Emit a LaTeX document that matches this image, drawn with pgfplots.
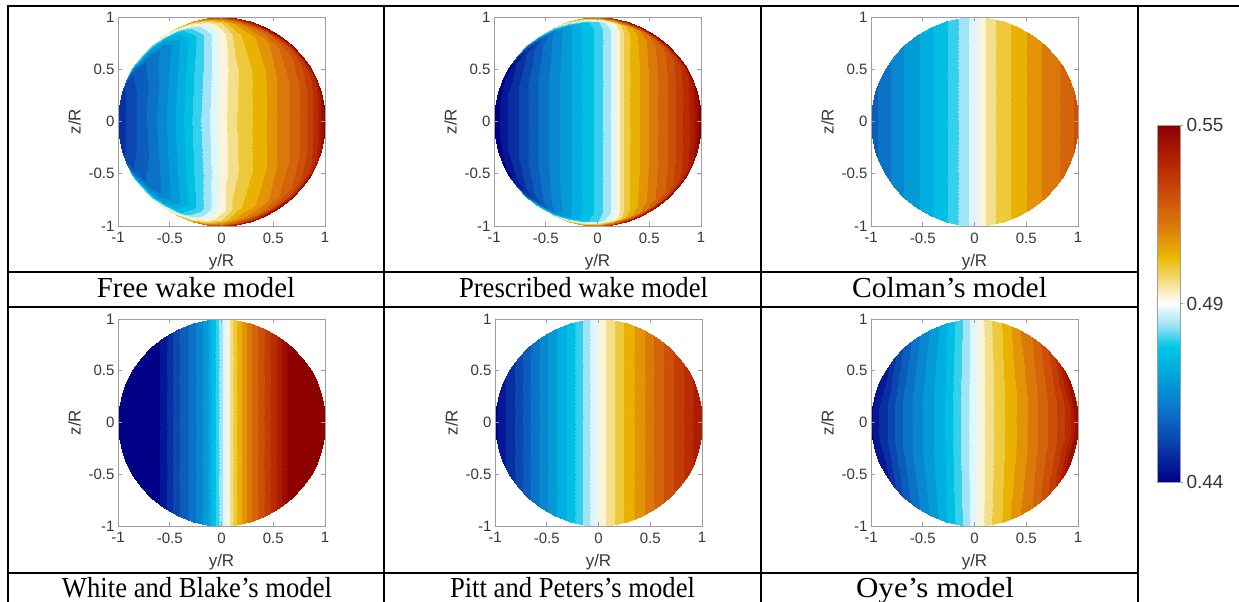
\documentclass[border=0pt]{standalone}
\usepackage{graphicx}
\usepackage{pgfplots}
\pgfplotsset{compat=1.18}
\usepackage{fontspec}
\setmainfont{Liberation Serif}
\newfontfamily\arial{Liberation Sans}
\definecolor{axgray}{gray}{0.62}
\definecolor{txtgray}{gray}{0.22}
\pgfplotsset{
  colormap={diverge}{rgb255(0cm)=(0,0,135); rgb255(10cm)=(10,60,170); rgb255(20cm)=(10,115,200); rgb255(30cm)=(0,165,220); rgb255(38cm)=(0,200,232); rgb255(44cm)=(160,228,245); rgb255(50cm)=(255,255,255); rgb255(57cm)=(242,218,120); rgb255(63cm)=(235,185,0); rgb255(71cm)=(220,125,10); rgb255(80cm)=(205,80,10); rgb255(90cm)=(180,35,0); rgb255(100cm)=(140,0,0)},
  panel/.style={
    scale only axis, width=207pt, height=#1,
    xmin=-1, xmax=1, ymin=-1, ymax=1,
    axis on top,
    axis line style={draw=axgray, line width=0.7pt},
    every tick/.style={draw=axgray, line width=0.7pt},
    tick align=inside, major tick length=4pt,
    xtick={-1,-0.5,0,0.5,1}, ytick={-1,-0.5,0,0.5,1},
    xticklabels={-1,-0.5,0,0.5,1}, yticklabels={-1,-0.5,0,0.5,1},
    tick label style={font=\arial\fontsize{15}{15}\selectfont, text=txtgray},
    xticklabel style={yshift=-3pt},
    xlabel={y/R}, ylabel={z/R},
    label style={font=\arial\fontsize{17}{17}\selectfont, text=txtgray},
    xlabel style={at={(axis description cs:0.5,-0.175)}, anchor=center},
    ylabel style={at={(axis description cs:-0.21,0.5)}, anchor=center},
    point meta min=0.44, point meta max=0.55,
  },
  disk/.style={contour filled={number=26}, mesh/cols=23, mesh/rows=#1, point meta=\thisrow{v}},
  table/disktab/.style={row sep=\\, x=a, y expr={(\thisrow{s})*sqrt(1-(\thisrow{a})*(\thisrow{a}))}},
}
\begin{document}
\begin{tikzpicture}
\clip (0,0) rectangle (1239pt,602pt);
\fill[white] (0,0) rectangle (1239pt,602pt);

% ---------- Free wake model ----------
\begin{axis}[panel=209pt, at={(118pt,376pt)}, anchor=south west]
\addplot[disk=11] table[disktab] {
a s v\\
-1 -1 0.4488\\ -0.99 -1 0.4499\\ -0.96 -1 0.4532\\ -0.92 -1 0.462\\ -0.86 -1 0.4818\\ -0.78 -1 0.4928\\ -0.68 -1 0.4972\\ -0.56 -1 0.5005\\ -0.42 -1 0.5082\\ -0.28 -1 0.517\\ -0.14 -1 0.528\\ 0 -1 0.5368\\ 0.14 -1 0.5434\\ 0.28 -1 0.5467\\ 0.42 -1 0.5489\\ 0.56 -1 0.55\\ 0.68 -1 0.55\\ 0.78 -1 0.55\\ 0.86 -1 0.55\\ 0.92 -1 0.55\\ 0.96 -1 0.55\\ 0.99 -1 0.55\\ 1 -1 0.5489\\
-1 -0.98 0.4488\\ -0.99 -0.98 0.4499\\ -0.96 -0.98 0.4521\\ -0.92 -0.98 0.4565\\ -0.86 -0.98 0.473\\ -0.78 -0.98 0.484\\ -0.68 -0.98 0.4884\\ -0.56 -0.98 0.4895\\ -0.42 -0.98 0.495\\ -0.28 -0.98 0.5016\\ -0.14 -0.98 0.5082\\ 0 -0.98 0.517\\ 0.14 -0.98 0.5258\\ 0.28 -0.98 0.5324\\ 0.42 -0.98 0.5368\\ 0.56 -0.98 0.539\\ 0.68 -0.98 0.5412\\ 0.78 -0.98 0.5423\\ 0.86 -0.98 0.5434\\ 0.92 -0.98 0.5445\\ 0.96 -0.98 0.5456\\ 0.99 -0.98 0.5478\\ 1 -0.98 0.5489\\
-1 -0.94 0.4488\\ -0.99 -0.94 0.4497\\ -0.96 -0.94 0.4516\\ -0.92 -0.94 0.4543\\ -0.86 -0.94 0.462\\ -0.78 -0.94 0.4697\\ -0.68 -0.94 0.473\\ -0.56 -0.94 0.4741\\ -0.42 -0.94 0.4796\\ -0.28 -0.94 0.4884\\ -0.14 -0.94 0.495\\ 0 -0.94 0.5038\\ 0.14 -0.94 0.5126\\ 0.28 -0.94 0.5181\\ 0.42 -0.94 0.5225\\ 0.56 -0.94 0.5269\\ 0.68 -0.94 0.5302\\ 0.78 -0.94 0.5335\\ 0.86 -0.94 0.5368\\ 0.92 -0.94 0.5401\\ 0.96 -0.94 0.5434\\ 0.99 -0.94 0.5467\\ 1 -0.94 0.5489\\
-1 -0.85 0.4488\\ -0.99 -0.85 0.4494\\ -0.96 -0.85 0.451\\ -0.92 -0.85 0.4532\\ -0.86 -0.85 0.4565\\ -0.78 -0.85 0.4598\\ -0.68 -0.85 0.4631\\ -0.56 -0.85 0.4664\\ -0.42 -0.85 0.473\\ -0.28 -0.85 0.4807\\ -0.14 -0.85 0.4884\\ 0 -0.85 0.4972\\ 0.14 -0.85 0.506\\ 0.28 -0.85 0.5104\\ 0.42 -0.85 0.5148\\ 0.56 -0.85 0.5203\\ 0.68 -0.85 0.5247\\ 0.78 -0.85 0.5291\\ 0.86 -0.85 0.5335\\ 0.92 -0.85 0.5379\\ 0.96 -0.85 0.5423\\ 0.99 -0.85 0.5467\\ 1 -0.85 0.5489\\
-1 -0.5 0.4488\\ -0.99 -0.5 0.4494\\ -0.96 -0.5 0.451\\ -0.92 -0.5 0.4532\\ -0.86 -0.5 0.4554\\ -0.78 -0.5 0.4587\\ -0.68 -0.5 0.462\\ -0.56 -0.5 0.4675\\ -0.42 -0.5 0.4741\\ -0.28 -0.5 0.4818\\ -0.14 -0.5 0.4884\\ 0 -0.5 0.4967\\ 0.14 -0.5 0.5027\\ 0.28 -0.5 0.5071\\ 0.42 -0.5 0.5115\\ 0.56 -0.5 0.517\\ 0.68 -0.5 0.5214\\ 0.78 -0.5 0.5258\\ 0.86 -0.5 0.5313\\ 0.92 -0.5 0.5368\\ 0.96 -0.5 0.5423\\ 0.99 -0.5 0.5467\\ 1 -0.5 0.5489\\
-1 0 0.4488\\ -0.99 0 0.4494\\ -0.96 0 0.451\\ -0.92 0 0.4532\\ -0.86 0 0.4554\\ -0.78 0 0.4587\\ -0.68 0 0.4631\\ -0.56 0 0.4686\\ -0.42 0 0.4752\\ -0.28 0 0.4829\\ -0.14 0 0.4895\\ 0 0 0.4972\\ 0.14 0 0.5033\\ 0.28 0 0.5071\\ 0.42 0 0.5115\\ 0.56 0 0.517\\ 0.68 0 0.5214\\ 0.78 0 0.5258\\ 0.86 0 0.5313\\ 0.92 0 0.5368\\ 0.96 0 0.5423\\ 0.99 0 0.5467\\ 1 0 0.5489\\
-1 0.5 0.4488\\ -0.99 0.5 0.4494\\ -0.96 0.5 0.451\\ -0.92 0.5 0.4532\\ -0.86 0.5 0.4554\\ -0.78 0.5 0.4587\\ -0.68 0.5 0.462\\ -0.56 0.5 0.4675\\ -0.42 0.5 0.4741\\ -0.28 0.5 0.4818\\ -0.14 0.5 0.4884\\ 0 0.5 0.4967\\ 0.14 0.5 0.5027\\ 0.28 0.5 0.5071\\ 0.42 0.5 0.5115\\ 0.56 0.5 0.517\\ 0.68 0.5 0.5214\\ 0.78 0.5 0.5258\\ 0.86 0.5 0.5313\\ 0.92 0.5 0.5368\\ 0.96 0.5 0.5423\\ 0.99 0.5 0.5467\\ 1 0.5 0.5489\\
-1 0.85 0.4488\\ -0.99 0.85 0.4494\\ -0.96 0.85 0.451\\ -0.92 0.85 0.4532\\ -0.86 0.85 0.4565\\ -0.78 0.85 0.4598\\ -0.68 0.85 0.4631\\ -0.56 0.85 0.4664\\ -0.42 0.85 0.473\\ -0.28 0.85 0.4807\\ -0.14 0.85 0.4884\\ 0 0.85 0.4972\\ 0.14 0.85 0.506\\ 0.28 0.85 0.5104\\ 0.42 0.85 0.5148\\ 0.56 0.85 0.5203\\ 0.68 0.85 0.5247\\ 0.78 0.85 0.5291\\ 0.86 0.85 0.5335\\ 0.92 0.85 0.5379\\ 0.96 0.85 0.5423\\ 0.99 0.85 0.5467\\ 1 0.85 0.5489\\
-1 0.94 0.4488\\ -0.99 0.94 0.4497\\ -0.96 0.94 0.4516\\ -0.92 0.94 0.4543\\ -0.86 0.94 0.462\\ -0.78 0.94 0.4697\\ -0.68 0.94 0.473\\ -0.56 0.94 0.4741\\ -0.42 0.94 0.4796\\ -0.28 0.94 0.4884\\ -0.14 0.94 0.495\\ 0 0.94 0.5038\\ 0.14 0.94 0.5126\\ 0.28 0.94 0.5181\\ 0.42 0.94 0.5225\\ 0.56 0.94 0.5269\\ 0.68 0.94 0.5302\\ 0.78 0.94 0.5335\\ 0.86 0.94 0.5368\\ 0.92 0.94 0.5401\\ 0.96 0.94 0.5434\\ 0.99 0.94 0.5467\\ 1 0.94 0.5489\\
-1 0.98 0.4488\\ -0.99 0.98 0.4499\\ -0.96 0.98 0.4521\\ -0.92 0.98 0.4565\\ -0.86 0.98 0.473\\ -0.78 0.98 0.484\\ -0.68 0.98 0.4884\\ -0.56 0.98 0.4895\\ -0.42 0.98 0.495\\ -0.28 0.98 0.5016\\ -0.14 0.98 0.5082\\ 0 0.98 0.517\\ 0.14 0.98 0.5258\\ 0.28 0.98 0.5324\\ 0.42 0.98 0.5368\\ 0.56 0.98 0.539\\ 0.68 0.98 0.5412\\ 0.78 0.98 0.5423\\ 0.86 0.98 0.5434\\ 0.92 0.98 0.5445\\ 0.96 0.98 0.5456\\ 0.99 0.98 0.5478\\ 1 0.98 0.5489\\
-1 1 0.4488\\ -0.99 1 0.4499\\ -0.96 1 0.4532\\ -0.92 1 0.462\\ -0.86 1 0.4818\\ -0.78 1 0.4928\\ -0.68 1 0.4972\\ -0.56 1 0.5005\\ -0.42 1 0.5082\\ -0.28 1 0.517\\ -0.14 1 0.528\\ 0 1 0.5368\\ 0.14 1 0.5434\\ 0.28 1 0.5467\\ 0.42 1 0.5489\\ 0.56 1 0.55\\ 0.68 1 0.55\\ 0.78 1 0.55\\ 0.86 1 0.55\\ 0.92 1 0.55\\ 0.96 1 0.55\\ 0.99 1 0.55\\ 1 1 0.5489\\
};
\end{axis}

% ---------- Prescribed wake model ----------
\begin{axis}[panel=209pt, at={(494pt,376pt)}, anchor=south west]
\addplot[disk=11] table[disktab] {
a s v\\
-1 -1 0.44\\ -0.99 -1 0.44\\ -0.96 -1 0.44\\ -0.92 -1 0.44\\ -0.86 -1 0.4455\\ -0.78 -1 0.462\\ -0.68 -1 0.484\\ -0.56 -1 0.495\\ -0.42 -1 0.5038\\ -0.28 -1 0.5115\\ -0.14 -1 0.5192\\ 0 -1 0.528\\ 0.14 -1 0.539\\ 0.28 -1 0.5456\\ 0.42 -1 0.55\\ 0.56 -1 0.55\\ 0.68 -1 0.55\\ 0.78 -1 0.55\\ 0.86 -1 0.55\\ 0.92 -1 0.55\\ 0.96 -1 0.55\\ 0.99 -1 0.55\\ 1 -1 0.55\\
-1 -0.985 0.44\\ -0.99 -0.985 0.44\\ -0.96 -0.985 0.44\\ -0.92 -0.985 0.44\\ -0.86 -0.985 0.4422\\ -0.78 -0.985 0.4488\\ -0.68 -0.985 0.462\\ -0.56 -0.985 0.4785\\ -0.42 -0.985 0.4862\\ -0.28 -0.985 0.4906\\ -0.14 -0.985 0.495\\ 0 -0.985 0.5038\\ 0.14 -0.985 0.517\\ 0.28 -0.985 0.528\\ 0.42 -0.985 0.5368\\ 0.56 -0.985 0.5412\\ 0.68 -0.985 0.5434\\ 0.78 -0.985 0.5445\\ 0.86 -0.985 0.5456\\ 0.92 -0.985 0.5467\\ 0.96 -0.985 0.5478\\ 0.99 -0.985 0.5489\\ 1 -0.985 0.55\\
-1 -0.95 0.44\\ -0.99 -0.95 0.44\\ -0.96 -0.95 0.4411\\ -0.92 -0.95 0.4422\\ -0.86 -0.95 0.4433\\ -0.78 -0.95 0.4455\\ -0.68 -0.95 0.4499\\ -0.56 -0.95 0.4565\\ -0.42 -0.95 0.4653\\ -0.28 -0.95 0.473\\ -0.14 -0.95 0.4796\\ 0 -0.95 0.4862\\ 0.14 -0.95 0.495\\ 0.28 -0.95 0.5082\\ 0.42 -0.95 0.517\\ 0.56 -0.95 0.5247\\ 0.68 -0.95 0.5302\\ 0.78 -0.95 0.5346\\ 0.86 -0.95 0.539\\ 0.92 -0.95 0.5423\\ 0.96 -0.95 0.5456\\ 0.99 -0.95 0.5478\\ 1 -0.95 0.55\\
-1 -0.88 0.44\\ -0.99 -0.88 0.4406\\ -0.96 -0.88 0.4422\\ -0.92 -0.88 0.4433\\ -0.86 -0.88 0.4455\\ -0.78 -0.88 0.4488\\ -0.68 -0.88 0.4532\\ -0.56 -0.88 0.4598\\ -0.42 -0.88 0.4664\\ -0.28 -0.88 0.473\\ -0.14 -0.88 0.4785\\ 0 -0.88 0.484\\ 0.14 -0.88 0.4917\\ 0.28 -0.88 0.506\\ 0.42 -0.88 0.5137\\ 0.56 -0.88 0.5203\\ 0.68 -0.88 0.5258\\ 0.78 -0.88 0.5313\\ 0.86 -0.88 0.5368\\ 0.92 -0.88 0.5412\\ 0.96 -0.88 0.5456\\ 0.99 -0.88 0.5478\\ 1 -0.88 0.55\\
-1 -0.5 0.44\\ -0.99 -0.5 0.4411\\ -0.96 -0.5 0.4433\\ -0.92 -0.5 0.4455\\ -0.86 -0.5 0.4488\\ -0.78 -0.5 0.4521\\ -0.68 -0.5 0.4565\\ -0.56 -0.5 0.462\\ -0.42 -0.5 0.4675\\ -0.28 -0.5 0.473\\ -0.14 -0.5 0.4785\\ 0 -0.5 0.484\\ 0.14 -0.5 0.4917\\ 0.28 -0.5 0.506\\ 0.42 -0.5 0.5126\\ 0.56 -0.5 0.5192\\ 0.68 -0.5 0.5247\\ 0.78 -0.5 0.5302\\ 0.86 -0.5 0.5357\\ 0.92 -0.5 0.5401\\ 0.96 -0.5 0.5445\\ 0.99 -0.5 0.5478\\ 1 -0.5 0.55\\
-1 0 0.44\\ -0.99 0 0.4411\\ -0.96 0 0.4433\\ -0.92 0 0.4455\\ -0.86 0 0.4488\\ -0.78 0 0.4521\\ -0.68 0 0.4565\\ -0.56 0 0.462\\ -0.42 0 0.4675\\ -0.28 0 0.473\\ -0.14 0 0.4785\\ 0 0 0.484\\ 0.14 0 0.4917\\ 0.28 0 0.506\\ 0.42 0 0.5126\\ 0.56 0 0.5192\\ 0.68 0 0.5247\\ 0.78 0 0.5302\\ 0.86 0 0.5357\\ 0.92 0 0.5401\\ 0.96 0 0.5445\\ 0.99 0 0.5478\\ 1 0 0.55\\
-1 0.5 0.44\\ -0.99 0.5 0.4411\\ -0.96 0.5 0.4433\\ -0.92 0.5 0.4455\\ -0.86 0.5 0.4488\\ -0.78 0.5 0.4521\\ -0.68 0.5 0.4565\\ -0.56 0.5 0.462\\ -0.42 0.5 0.4675\\ -0.28 0.5 0.473\\ -0.14 0.5 0.4785\\ 0 0.5 0.484\\ 0.14 0.5 0.4917\\ 0.28 0.5 0.506\\ 0.42 0.5 0.5126\\ 0.56 0.5 0.5192\\ 0.68 0.5 0.5247\\ 0.78 0.5 0.5302\\ 0.86 0.5 0.5357\\ 0.92 0.5 0.5401\\ 0.96 0.5 0.5445\\ 0.99 0.5 0.5478\\ 1 0.5 0.55\\
-1 0.88 0.44\\ -0.99 0.88 0.4406\\ -0.96 0.88 0.4422\\ -0.92 0.88 0.4433\\ -0.86 0.88 0.4455\\ -0.78 0.88 0.4488\\ -0.68 0.88 0.4532\\ -0.56 0.88 0.4598\\ -0.42 0.88 0.4664\\ -0.28 0.88 0.473\\ -0.14 0.88 0.4785\\ 0 0.88 0.484\\ 0.14 0.88 0.4917\\ 0.28 0.88 0.506\\ 0.42 0.88 0.5137\\ 0.56 0.88 0.5203\\ 0.68 0.88 0.5258\\ 0.78 0.88 0.5313\\ 0.86 0.88 0.5368\\ 0.92 0.88 0.5412\\ 0.96 0.88 0.5456\\ 0.99 0.88 0.5478\\ 1 0.88 0.55\\
-1 0.95 0.44\\ -0.99 0.95 0.44\\ -0.96 0.95 0.4411\\ -0.92 0.95 0.4422\\ -0.86 0.95 0.4433\\ -0.78 0.95 0.4455\\ -0.68 0.95 0.4499\\ -0.56 0.95 0.4565\\ -0.42 0.95 0.4653\\ -0.28 0.95 0.473\\ -0.14 0.95 0.4796\\ 0 0.95 0.4862\\ 0.14 0.95 0.495\\ 0.28 0.95 0.5082\\ 0.42 0.95 0.517\\ 0.56 0.95 0.5247\\ 0.68 0.95 0.5302\\ 0.78 0.95 0.5346\\ 0.86 0.95 0.539\\ 0.92 0.95 0.5423\\ 0.96 0.95 0.5456\\ 0.99 0.95 0.5478\\ 1 0.95 0.55\\
-1 0.985 0.44\\ -0.99 0.985 0.44\\ -0.96 0.985 0.44\\ -0.92 0.985 0.44\\ -0.86 0.985 0.4422\\ -0.78 0.985 0.4488\\ -0.68 0.985 0.462\\ -0.56 0.985 0.4785\\ -0.42 0.985 0.4862\\ -0.28 0.985 0.4906\\ -0.14 0.985 0.495\\ 0 0.985 0.5038\\ 0.14 0.985 0.517\\ 0.28 0.985 0.528\\ 0.42 0.985 0.5368\\ 0.56 0.985 0.5412\\ 0.68 0.985 0.5434\\ 0.78 0.985 0.5445\\ 0.86 0.985 0.5456\\ 0.92 0.985 0.5467\\ 0.96 0.985 0.5478\\ 0.99 0.985 0.5489\\ 1 0.985 0.55\\
-1 1 0.44\\ -0.99 1 0.44\\ -0.96 1 0.44\\ -0.92 1 0.44\\ -0.86 1 0.4455\\ -0.78 1 0.462\\ -0.68 1 0.484\\ -0.56 1 0.495\\ -0.42 1 0.5038\\ -0.28 1 0.5115\\ -0.14 1 0.5192\\ 0 1 0.528\\ 0.14 1 0.539\\ 0.28 1 0.5456\\ 0.42 1 0.55\\ 0.56 1 0.55\\ 0.68 1 0.55\\ 0.78 1 0.55\\ 0.86 1 0.55\\ 0.92 1 0.55\\ 0.96 1 0.55\\ 0.99 1 0.55\\ 1 1 0.55\\
};
\end{axis}

% ---------- Colman's model ----------
\begin{axis}[panel=209pt, at={(871pt,376pt)}, anchor=south west]
\addplot[disk=5] table[disktab] {
a s v\\
-1 -1 0.4587\\ -0.99 -1 0.4593\\ -0.96 -1 0.4598\\ -0.92 -1 0.462\\ -0.86 -1 0.4642\\ -0.78 -1 0.4664\\ -0.68 -1 0.4697\\ -0.56 -1 0.473\\ -0.42 -1 0.4774\\ -0.28 -1 0.4818\\ -0.14 -1 0.4873\\ 0 -1 0.4934\\ 0.14 -1 0.5011\\ 0.28 -1 0.506\\ 0.42 -1 0.5093\\ 0.56 -1 0.5137\\ 0.68 -1 0.517\\ 0.78 -1 0.5192\\ 0.86 -1 0.5214\\ 0.92 -1 0.5236\\ 0.96 -1 0.5247\\ 0.99 -1 0.5258\\ 1 -1 0.5264\\
-1 -0.5 0.4587\\ -0.99 -0.5 0.4593\\ -0.96 -0.5 0.4598\\ -0.92 -0.5 0.462\\ -0.86 -0.5 0.4642\\ -0.78 -0.5 0.4664\\ -0.68 -0.5 0.4697\\ -0.56 -0.5 0.473\\ -0.42 -0.5 0.4774\\ -0.28 -0.5 0.4818\\ -0.14 -0.5 0.4873\\ 0 -0.5 0.4934\\ 0.14 -0.5 0.5011\\ 0.28 -0.5 0.506\\ 0.42 -0.5 0.5093\\ 0.56 -0.5 0.5137\\ 0.68 -0.5 0.517\\ 0.78 -0.5 0.5192\\ 0.86 -0.5 0.5214\\ 0.92 -0.5 0.5236\\ 0.96 -0.5 0.5247\\ 0.99 -0.5 0.5258\\ 1 -0.5 0.5264\\
-1 0 0.4587\\ -0.99 0 0.4593\\ -0.96 0 0.4598\\ -0.92 0 0.462\\ -0.86 0 0.4642\\ -0.78 0 0.4664\\ -0.68 0 0.4697\\ -0.56 0 0.473\\ -0.42 0 0.4774\\ -0.28 0 0.4818\\ -0.14 0 0.4873\\ 0 0 0.4934\\ 0.14 0 0.5011\\ 0.28 0 0.506\\ 0.42 0 0.5093\\ 0.56 0 0.5137\\ 0.68 0 0.517\\ 0.78 0 0.5192\\ 0.86 0 0.5214\\ 0.92 0 0.5236\\ 0.96 0 0.5247\\ 0.99 0 0.5258\\ 1 0 0.5264\\
-1 0.5 0.4587\\ -0.99 0.5 0.4593\\ -0.96 0.5 0.4598\\ -0.92 0.5 0.462\\ -0.86 0.5 0.4642\\ -0.78 0.5 0.4664\\ -0.68 0.5 0.4697\\ -0.56 0.5 0.473\\ -0.42 0.5 0.4774\\ -0.28 0.5 0.4818\\ -0.14 0.5 0.4873\\ 0 0.5 0.4934\\ 0.14 0.5 0.5011\\ 0.28 0.5 0.506\\ 0.42 0.5 0.5093\\ 0.56 0.5 0.5137\\ 0.68 0.5 0.517\\ 0.78 0.5 0.5192\\ 0.86 0.5 0.5214\\ 0.92 0.5 0.5236\\ 0.96 0.5 0.5247\\ 0.99 0.5 0.5258\\ 1 0.5 0.5264\\
-1 1 0.4587\\ -0.99 1 0.4593\\ -0.96 1 0.4598\\ -0.92 1 0.462\\ -0.86 1 0.4642\\ -0.78 1 0.4664\\ -0.68 1 0.4697\\ -0.56 1 0.473\\ -0.42 1 0.4774\\ -0.28 1 0.4818\\ -0.14 1 0.4873\\ 0 1 0.4934\\ 0.14 1 0.5011\\ 0.28 1 0.506\\ 0.42 1 0.5093\\ 0.56 1 0.5137\\ 0.68 1 0.517\\ 0.78 1 0.5192\\ 0.86 1 0.5214\\ 0.92 1 0.5236\\ 0.96 1 0.5247\\ 0.99 1 0.5258\\ 1 1 0.5264\\
};
\end{axis}

% ---------- White and Blake's model ----------
\begin{axis}[panel=207pt, at={(118pt,76pt)}, anchor=south west]
\addplot[disk=5] table[disktab] {
a s v\\
-1 -1 0.4378\\ -0.99 -1 0.4378\\ -0.96 -1 0.4378\\ -0.92 -1 0.4378\\ -0.86 -1 0.4378\\ -0.78 -1 0.4378\\ -0.68 -1 0.4378\\ -0.56 -1 0.4465\\ -0.42 -1 0.4564\\ -0.28 -1 0.4635\\ -0.14 -1 0.4726\\ 0 -1 0.4902\\ 0.14 -1 0.5073\\ 0.28 -1 0.5193\\ 0.42 -1 0.5295\\ 0.56 -1 0.5392\\ 0.68 -1 0.5522\\ 0.78 -1 0.5522\\ 0.86 -1 0.5522\\ 0.92 -1 0.5522\\ 0.96 -1 0.5522\\ 0.99 -1 0.5522\\ 1 -1 0.5522\\
-1 -0.5 0.4378\\ -0.99 -0.5 0.4378\\ -0.96 -0.5 0.4378\\ -0.92 -0.5 0.4378\\ -0.86 -0.5 0.4378\\ -0.78 -0.5 0.4378\\ -0.68 -0.5 0.4378\\ -0.56 -0.5 0.4465\\ -0.42 -0.5 0.4564\\ -0.28 -0.5 0.4635\\ -0.14 -0.5 0.4726\\ 0 -0.5 0.4902\\ 0.14 -0.5 0.5073\\ 0.28 -0.5 0.5193\\ 0.42 -0.5 0.5295\\ 0.56 -0.5 0.5392\\ 0.68 -0.5 0.5522\\ 0.78 -0.5 0.5522\\ 0.86 -0.5 0.5522\\ 0.92 -0.5 0.5522\\ 0.96 -0.5 0.5522\\ 0.99 -0.5 0.5522\\ 1 -0.5 0.5522\\
-1 0 0.4378\\ -0.99 0 0.4378\\ -0.96 0 0.4378\\ -0.92 0 0.4378\\ -0.86 0 0.4378\\ -0.78 0 0.4378\\ -0.68 0 0.4378\\ -0.56 0 0.4465\\ -0.42 0 0.4564\\ -0.28 0 0.4635\\ -0.14 0 0.4726\\ 0 0 0.4902\\ 0.14 0 0.5073\\ 0.28 0 0.5193\\ 0.42 0 0.5295\\ 0.56 0 0.5392\\ 0.68 0 0.5522\\ 0.78 0 0.5522\\ 0.86 0 0.5522\\ 0.92 0 0.5522\\ 0.96 0 0.5522\\ 0.99 0 0.5522\\ 1 0 0.5522\\
-1 0.5 0.4378\\ -0.99 0.5 0.4378\\ -0.96 0.5 0.4378\\ -0.92 0.5 0.4378\\ -0.86 0.5 0.4378\\ -0.78 0.5 0.4378\\ -0.68 0.5 0.4378\\ -0.56 0.5 0.4465\\ -0.42 0.5 0.4564\\ -0.28 0.5 0.4635\\ -0.14 0.5 0.4726\\ 0 0.5 0.4902\\ 0.14 0.5 0.5073\\ 0.28 0.5 0.5193\\ 0.42 0.5 0.5295\\ 0.56 0.5 0.5392\\ 0.68 0.5 0.5522\\ 0.78 0.5 0.5522\\ 0.86 0.5 0.5522\\ 0.92 0.5 0.5522\\ 0.96 0.5 0.5522\\ 0.99 0.5 0.5522\\ 1 0.5 0.5522\\
-1 1 0.4378\\ -0.99 1 0.4378\\ -0.96 1 0.4378\\ -0.92 1 0.4378\\ -0.86 1 0.4378\\ -0.78 1 0.4378\\ -0.68 1 0.4378\\ -0.56 1 0.4465\\ -0.42 1 0.4564\\ -0.28 1 0.4635\\ -0.14 1 0.4726\\ 0 1 0.4902\\ 0.14 1 0.5073\\ 0.28 1 0.5193\\ 0.42 1 0.5295\\ 0.56 1 0.5392\\ 0.68 1 0.5522\\ 0.78 1 0.5522\\ 0.86 1 0.5522\\ 0.92 1 0.5522\\ 0.96 1 0.5522\\ 0.99 1 0.5522\\ 1 1 0.5522\\
};
\end{axis}

% ---------- Pitt and Peters's model ----------
\begin{axis}[panel=207pt, at={(495pt,76pt)}, anchor=south west]
\addplot[disk=5] table[disktab] {
a s v\\
-1 -1 0.4422\\ -0.99 -1 0.4433\\ -0.96 -1 0.4455\\ -0.92 -1 0.4477\\ -0.86 -1 0.4499\\ -0.78 -1 0.4543\\ -0.68 -1 0.4598\\ -0.56 -1 0.4664\\ -0.42 -1 0.473\\ -0.28 -1 0.4796\\ -0.14 -1 0.4873\\ 0 -1 0.4961\\ 0.14 -1 0.5027\\ 0.28 -1 0.5093\\ 0.42 -1 0.5148\\ 0.56 -1 0.5214\\ 0.68 -1 0.5269\\ 0.78 -1 0.5313\\ 0.86 -1 0.5346\\ 0.92 -1 0.5379\\ 0.96 -1 0.5401\\ 0.99 -1 0.5412\\ 1 -1 0.5423\\
-1 -0.5 0.4422\\ -0.99 -0.5 0.4433\\ -0.96 -0.5 0.4455\\ -0.92 -0.5 0.4477\\ -0.86 -0.5 0.4499\\ -0.78 -0.5 0.4543\\ -0.68 -0.5 0.4598\\ -0.56 -0.5 0.4664\\ -0.42 -0.5 0.473\\ -0.28 -0.5 0.4796\\ -0.14 -0.5 0.4873\\ 0 -0.5 0.4961\\ 0.14 -0.5 0.5027\\ 0.28 -0.5 0.5093\\ 0.42 -0.5 0.5148\\ 0.56 -0.5 0.5214\\ 0.68 -0.5 0.5269\\ 0.78 -0.5 0.5313\\ 0.86 -0.5 0.5346\\ 0.92 -0.5 0.5379\\ 0.96 -0.5 0.5401\\ 0.99 -0.5 0.5412\\ 1 -0.5 0.5423\\
-1 0 0.4422\\ -0.99 0 0.4433\\ -0.96 0 0.4455\\ -0.92 0 0.4477\\ -0.86 0 0.4499\\ -0.78 0 0.4543\\ -0.68 0 0.4598\\ -0.56 0 0.4664\\ -0.42 0 0.473\\ -0.28 0 0.4796\\ -0.14 0 0.4873\\ 0 0 0.4961\\ 0.14 0 0.5027\\ 0.28 0 0.5093\\ 0.42 0 0.5148\\ 0.56 0 0.5214\\ 0.68 0 0.5269\\ 0.78 0 0.5313\\ 0.86 0 0.5346\\ 0.92 0 0.5379\\ 0.96 0 0.5401\\ 0.99 0 0.5412\\ 1 0 0.5423\\
-1 0.5 0.4422\\ -0.99 0.5 0.4433\\ -0.96 0.5 0.4455\\ -0.92 0.5 0.4477\\ -0.86 0.5 0.4499\\ -0.78 0.5 0.4543\\ -0.68 0.5 0.4598\\ -0.56 0.5 0.4664\\ -0.42 0.5 0.473\\ -0.28 0.5 0.4796\\ -0.14 0.5 0.4873\\ 0 0.5 0.4961\\ 0.14 0.5 0.5027\\ 0.28 0.5 0.5093\\ 0.42 0.5 0.5148\\ 0.56 0.5 0.5214\\ 0.68 0.5 0.5269\\ 0.78 0.5 0.5313\\ 0.86 0.5 0.5346\\ 0.92 0.5 0.5379\\ 0.96 0.5 0.5401\\ 0.99 0.5 0.5412\\ 1 0.5 0.5423\\
-1 1 0.4422\\ -0.99 1 0.4433\\ -0.96 1 0.4455\\ -0.92 1 0.4477\\ -0.86 1 0.4499\\ -0.78 1 0.4543\\ -0.68 1 0.4598\\ -0.56 1 0.4664\\ -0.42 1 0.473\\ -0.28 1 0.4796\\ -0.14 1 0.4873\\ 0 1 0.4961\\ 0.14 1 0.5027\\ 0.28 1 0.5093\\ 0.42 1 0.5148\\ 0.56 1 0.5214\\ 0.68 1 0.5269\\ 0.78 1 0.5313\\ 0.86 1 0.5346\\ 0.92 1 0.5379\\ 0.96 1 0.5401\\ 0.99 1 0.5412\\ 1 1 0.5423\\
};
\end{axis}

% ---------- Oye's model ----------
\begin{axis}[panel=207pt, at={(871pt,76pt)}, anchor=south west]
\addplot[disk=7] table[disktab] {
a s v\\
-1 -1 0.4433\\ -0.99 -1 0.4433\\ -0.96 -1 0.4444\\ -0.92 -1 0.4455\\ -0.86 -1 0.4466\\ -0.78 -1 0.4516\\ -0.68 -1 0.4576\\ -0.56 -1 0.4642\\ -0.42 -1 0.4703\\ -0.28 -1 0.4774\\ -0.14 -1 0.4851\\ 0 -1 0.4939\\ 0.14 -1 0.5024\\ 0.28 -1 0.5082\\ 0.42 -1 0.5154\\ 0.56 -1 0.5203\\ 0.68 -1 0.5269\\ 0.78 -1 0.533\\ 0.86 -1 0.5412\\ 0.92 -1 0.5456\\ 0.96 -1 0.5456\\ 0.99 -1 0.5456\\ 1 -1 0.5456\\
-1 -0.65 0.4433\\ -0.99 -0.65 0.4439\\ -0.96 -0.65 0.4455\\ -0.92 -0.65 0.4472\\ -0.86 -0.65 0.4494\\ -0.78 -0.65 0.4543\\ -0.68 -0.65 0.4598\\ -0.56 -0.65 0.4659\\ -0.42 -0.65 0.4719\\ -0.28 -0.65 0.478\\ -0.14 -0.65 0.4857\\ 0 -0.65 0.4939\\ 0.14 -0.65 0.5019\\ 0.28 -0.65 0.5077\\ 0.42 -0.65 0.5139\\ 0.56 -0.65 0.5192\\ 0.68 -0.65 0.5253\\ 0.78 -0.65 0.5302\\ 0.86 -0.65 0.5368\\ 0.92 -0.65 0.5412\\ 0.96 -0.65 0.5434\\ 0.99 -0.65 0.5451\\ 1 -0.65 0.5456\\
-1 -0.3 0.4433\\ -0.99 -0.3 0.4444\\ -0.96 -0.3 0.4466\\ -0.92 -0.3 0.4488\\ -0.86 -0.3 0.4521\\ -0.78 -0.3 0.4565\\ -0.68 -0.3 0.462\\ -0.56 -0.3 0.4675\\ -0.42 -0.3 0.473\\ -0.28 -0.3 0.4785\\ -0.14 -0.3 0.4862\\ 0 -0.3 0.4939\\ 0.14 -0.3 0.5016\\ 0.28 -0.3 0.5071\\ 0.42 -0.3 0.5126\\ 0.56 -0.3 0.5181\\ 0.68 -0.3 0.5236\\ 0.78 -0.3 0.528\\ 0.86 -0.3 0.5324\\ 0.92 -0.3 0.5368\\ 0.96 -0.3 0.5412\\ 0.99 -0.3 0.5445\\ 1 -0.3 0.5456\\
-1 0 0.4433\\ -0.99 0 0.4444\\ -0.96 0 0.4466\\ -0.92 0 0.4488\\ -0.86 0 0.4521\\ -0.78 0 0.4565\\ -0.68 0 0.462\\ -0.56 0 0.4675\\ -0.42 0 0.473\\ -0.28 0 0.4785\\ -0.14 0 0.4862\\ 0 0 0.4939\\ 0.14 0 0.5016\\ 0.28 0 0.5071\\ 0.42 0 0.5126\\ 0.56 0 0.5181\\ 0.68 0 0.5236\\ 0.78 0 0.528\\ 0.86 0 0.5324\\ 0.92 0 0.5368\\ 0.96 0 0.5412\\ 0.99 0 0.5445\\ 1 0 0.5456\\
-1 0.3 0.4433\\ -0.99 0.3 0.4444\\ -0.96 0.3 0.4466\\ -0.92 0.3 0.4488\\ -0.86 0.3 0.4521\\ -0.78 0.3 0.4565\\ -0.68 0.3 0.462\\ -0.56 0.3 0.4675\\ -0.42 0.3 0.473\\ -0.28 0.3 0.4785\\ -0.14 0.3 0.4862\\ 0 0.3 0.4939\\ 0.14 0.3 0.5016\\ 0.28 0.3 0.5071\\ 0.42 0.3 0.5126\\ 0.56 0.3 0.5181\\ 0.68 0.3 0.5236\\ 0.78 0.3 0.528\\ 0.86 0.3 0.5324\\ 0.92 0.3 0.5368\\ 0.96 0.3 0.5412\\ 0.99 0.3 0.5445\\ 1 0.3 0.5456\\
-1 0.65 0.4433\\ -0.99 0.65 0.4439\\ -0.96 0.65 0.4455\\ -0.92 0.65 0.4472\\ -0.86 0.65 0.4494\\ -0.78 0.65 0.4543\\ -0.68 0.65 0.4598\\ -0.56 0.65 0.4659\\ -0.42 0.65 0.4719\\ -0.28 0.65 0.478\\ -0.14 0.65 0.4857\\ 0 0.65 0.4939\\ 0.14 0.65 0.5019\\ 0.28 0.65 0.5077\\ 0.42 0.65 0.5139\\ 0.56 0.65 0.5192\\ 0.68 0.65 0.5253\\ 0.78 0.65 0.5302\\ 0.86 0.65 0.5368\\ 0.92 0.65 0.5412\\ 0.96 0.65 0.5434\\ 0.99 0.65 0.5451\\ 1 0.65 0.5456\\
-1 1 0.4433\\ -0.99 1 0.4433\\ -0.96 1 0.4444\\ -0.92 1 0.4455\\ -0.86 1 0.4466\\ -0.78 1 0.4516\\ -0.68 1 0.4576\\ -0.56 1 0.4642\\ -0.42 1 0.4703\\ -0.28 1 0.4774\\ -0.14 1 0.4851\\ 0 1 0.4939\\ 0.14 1 0.5024\\ 0.28 1 0.5082\\ 0.42 1 0.5154\\ 0.56 1 0.5203\\ 0.68 1 0.5269\\ 0.78 1 0.533\\ 0.86 1 0.5412\\ 0.92 1 0.5456\\ 0.96 1 0.5456\\ 0.99 1 0.5456\\ 1 1 0.5456\\
};
\end{axis}

% ---------- colour bar ----------
\begin{axis}[at={(1157pt,120pt)}, anchor=south west, scale only axis, width=23pt, height=357pt,
  xmin=0, xmax=1, ymin=0.44, ymax=0.55, xtick=\empty,
  ytick={0.44,0.495,0.55}, yticklabels={0.44,0.49,0.55},
  ytick pos=right, yticklabel pos=right, tick align=outside, major tick length=3pt,
  axis line style={draw=axgray, line width=0.7pt},
  every tick/.style={draw=axgray, line width=0.7pt},
  tick label style={font=\arial\fontsize{19}{19}\selectfont, text=txtgray},
  point meta min=0.44, point meta max=0.55, axis on top]
\addplot[surf, shader=interp, mesh/cols=2, mesh/rows=21, point meta=\thisrow{c}] table[row sep=\\, x=x, y=c] {
x c\\ 0 0.44\\ 1 0.44\\ 0 0.4455\\ 1 0.4455\\ 0 0.451\\ 1 0.451\\ 0 0.4565\\ 1 0.4565\\ 0 0.462\\ 1 0.462\\ 0 0.4675\\ 1 0.4675\\ 0 0.473\\ 1 0.473\\ 0 0.4785\\ 1 0.4785\\ 0 0.484\\ 1 0.484\\ 0 0.4895\\ 1 0.4895\\ 0 0.495\\ 1 0.495\\ 0 0.5005\\ 1 0.5005\\ 0 0.506\\ 1 0.506\\ 0 0.5115\\ 1 0.5115\\ 0 0.517\\ 1 0.517\\ 0 0.5225\\ 1 0.5225\\ 0 0.528\\ 1 0.528\\ 0 0.5335\\ 1 0.5335\\ 0 0.539\\ 1 0.539\\ 0 0.5445\\ 1 0.5445\\ 0 0.55\\ 1 0.55\\
};
\end{axis}

% ---------- table rules ----------
\draw[line width=2pt] (6.5pt,595.5pt) -- (1239pt,595.5pt);
\draw[line width=2pt] (7.5pt,330pt) -- (1138pt,330pt);
\draw[line width=2pt] (7.5pt,295pt) -- (1138pt,295pt);
\draw[line width=2pt] (7.5pt,28.5pt) -- (1138pt,28.5pt);
\foreach \xx in {7.5,384,761,1138} \draw[line width=2pt] (\xx pt,0pt) -- (\xx pt,596.5pt);

% ---------- captions ----------
\begin{scope}[every node/.style={anchor=base, inner sep=0pt, font=\fontsize{29}{29}\selectfont}]
\node at (196pt,304pt) {\resizebox{198pt}{\height}{Free wake model}};
\node at (583.5pt,304pt) {\resizebox{249pt}{\height}{Prescribed wake model}};
\node at (949.5pt,304pt) {\resizebox{195pt}{\height}{Colman’s model}};
\node at (197pt,4pt) {\resizebox{270pt}{\height}{White and Blake’s model}};
\node at (572.5pt,4pt) {\resizebox{245pt}{\height}{Pitt and Peters’s model}};
\node at (935pt,4pt) {\resizebox{158pt}{\height}{Oye’s model}};
\end{scope}
\end{tikzpicture}
\end{document}
